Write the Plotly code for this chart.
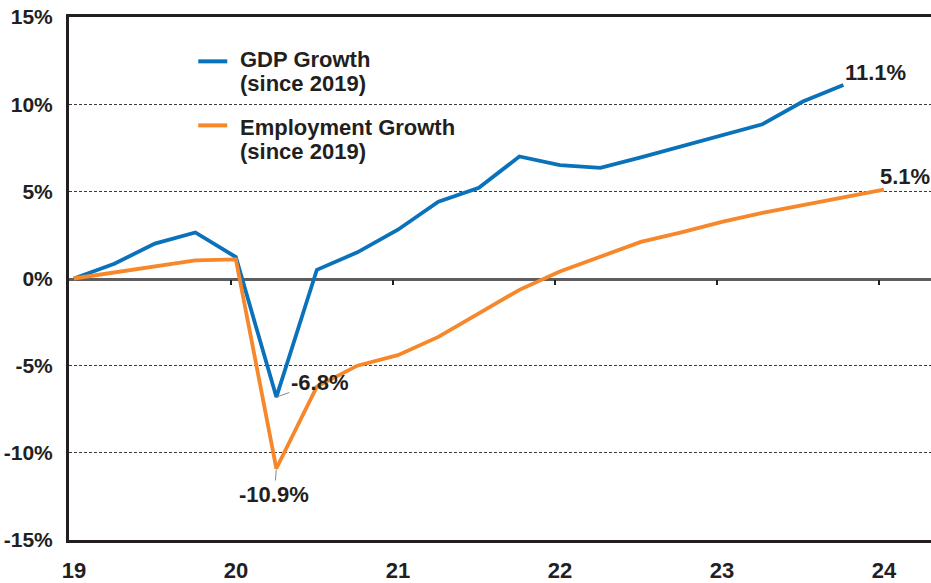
import plotly.graph_objects as go

# ---- data ----
gdp_quarters = ["2019Q1", "2019Q2", "2019Q3", "2019Q4", "2020Q1", "2020Q2", "2020Q3", "2020Q4",
                "2021Q1", "2021Q2", "2021Q3", "2021Q4", "2022Q1", "2022Q2", "2022Q3", "2022Q4",
                "2023Q1", "2023Q2", "2023Q3", "2023Q4"]
gdp_growth = [0.0, 0.85, 2.0, 2.64, 1.23, -6.8, 0.5, 1.5, 2.8, 4.4, 5.2, 7.0, 6.5, 6.35,
              6.95, 7.6, 8.2, 8.85, 10.15, 11.1]

emp_quarters = gdp_quarters + ["2024Q1"]
emp_growth = [0.0, 0.35, 0.7, 1.04, 1.1, -10.9, -6.2, -5.0, -4.4, -3.35, -2.0, -0.65, 0.4,
              1.25, 2.1, 2.65, 3.25, 3.77, 4.22, 4.62, 5.1]

x_tick_vals = [19, 20, 21, 22, 23, 24]
x_tick_text = ["19", "20", "21", "22", "23", "24"]
y_tick_vals = [-15, -10, -5, 0, 5, 10, 15]
y_tick_text = ["-15%", "-10%", "-5%", "0%", "5%", "10%", "15%"]

BLUE = "#0a72ba"
ORANGE = "#f6872a"
TEXT = "#231f20"
FONT = "Liberation Sans"


def qpos(label):
    yy = int(label[2:4])
    q = int(label[-1])
    return yy + (q - 1) / 4 + 0.03


def b(t):
    return f"<b>{t}</b>"


gdp_x = [qpos(q) for q in gdp_quarters]
emp_x = [qpos(q) for q in emp_quarters]

fig = go.Figure()
fig.add_trace(go.Scatter(x=gdp_x, y=gdp_growth, mode="lines", name="GDP Growth (since 2019)",
                         line=dict(color=BLUE, width=3.8), showlegend=False))
fig.add_trace(go.Scatter(x=emp_x, y=emp_growth, mode="lines", name="Employment Growth (since 2019)",
                         line=dict(color=ORANGE, width=3.8), showlegend=False))

x_range = [19, 19 + (931 - 68.7) / 162.06]

fig.update_layout(
    width=931, height=583,
    margin=dict(l=69, r=0, t=17, b=35),
    plot_bgcolor="white", paper_bgcolor="white",
    font=dict(family=FONT, color=TEXT),
    xaxis=dict(range=x_range, tickmode="array", tickvals=x_tick_vals,
               ticktext=[b(t) for t in x_tick_text],
               showgrid=False, zeroline=False, showline=True, linecolor=TEXT, linewidth=3,
               mirror=True, ticks="", ticklabelstandoff=9, ticklabelshift=5,
               tickfont=dict(size=22, family=FONT, color=TEXT)),
    xaxis2=dict(range=x_range, overlaying="x", anchor="free", position=0.5,
                tickmode="array", tickvals=x_tick_vals[1:], showticklabels=False,
                ticks="outside", ticklen=5, tickwidth=2, tickcolor=TEXT, showline=True,
                linecolor="#5d5d5f", linewidth=2.5, showgrid=False, zeroline=False,
                layer="below traces"),
    yaxis=dict(range=[-15, 15], tickmode="array", tickvals=y_tick_vals,
               ticktext=[b(t) for t in y_tick_text],
               showgrid=True, gridcolor="#3a3a3a", gridwidth=1, griddash="3px,2px",
               zeroline=False, showline=True, linecolor=TEXT, linewidth=3, ticks="",
               ticklabelstandoff=9,
               tickfont=dict(size=21, family=FONT, color=TEXT)),
)

# dummy trace so xaxis2 is rendered
fig.add_trace(go.Scatter(x=[x_tick_vals[1]], y=[None], xaxis="x2", showlegend=False,
                         hoverinfo="skip"))

lab_font = dict(size=22, family=FONT, color=TEXT)

# end labels
fig.add_annotation(x=gdp_x[-1], y=gdp_growth[-1], text=b(f"{gdp_growth[-1]:.1f}%"),
                   showarrow=False, xanchor="left", yanchor="middle", xshift=0, yshift=12,
                   font=lab_font)
fig.add_annotation(x=emp_x[-1], y=emp_growth[-1], text=b(f"{emp_growth[-1]:.1f}%"),
                   showarrow=False, xanchor="left", yanchor="middle", xshift=-6, yshift=13,
                   font=lab_font)
# trough labels with leader lines
fig.add_annotation(x=gdp_x[5], y=gdp_growth[5], text=b(f"{gdp_growth[5]:.1f}%"),
                   showarrow=True, arrowhead=0, arrowwidth=1, arrowcolor="#8a8a8a",
                   ax=43, ay=-15, font=lab_font, standoff=1)
fig.add_annotation(x=emp_x[5], y=emp_growth[5], text=b(f"{emp_growth[5]:.1f}%"),
                   showarrow=True, arrowhead=0, arrowwidth=1, arrowcolor="#8a8a8a",
                   ax=-2, ay=26, font=lab_font, standoff=1)

# custom legend
def px_x(px):
    return (px - 68.7) / 862.3


def px_y(py):
    return (547.5 - py) / 530.8


legend_items = [
    (BLUE, 61.7, ["GDP Growth", "(since 2019)"], [59.5, 84.5]),
    (ORANGE, 126.7, ["Employment Growth", "(since 2019)"], [129, 153.5]),
]
leg_font = dict(size=22, family=FONT, color=TEXT)
for color, ly, lines, ys in legend_items:
    fig.add_shape(type="line", xref="paper", yref="paper", x0=px_x(198), x1=px_x(227),
                  y0=px_y(ly), y1=px_y(ly), line=dict(color=color, width=4))
    for t, yy in zip(lines, ys):
        fig.add_annotation(xref="paper", yref="paper", x=px_x(238), y=px_y(yy), text=b(t),
                           showarrow=False, xanchor="left", yanchor="middle", font=leg_font)

fig.write_html("out.html")
